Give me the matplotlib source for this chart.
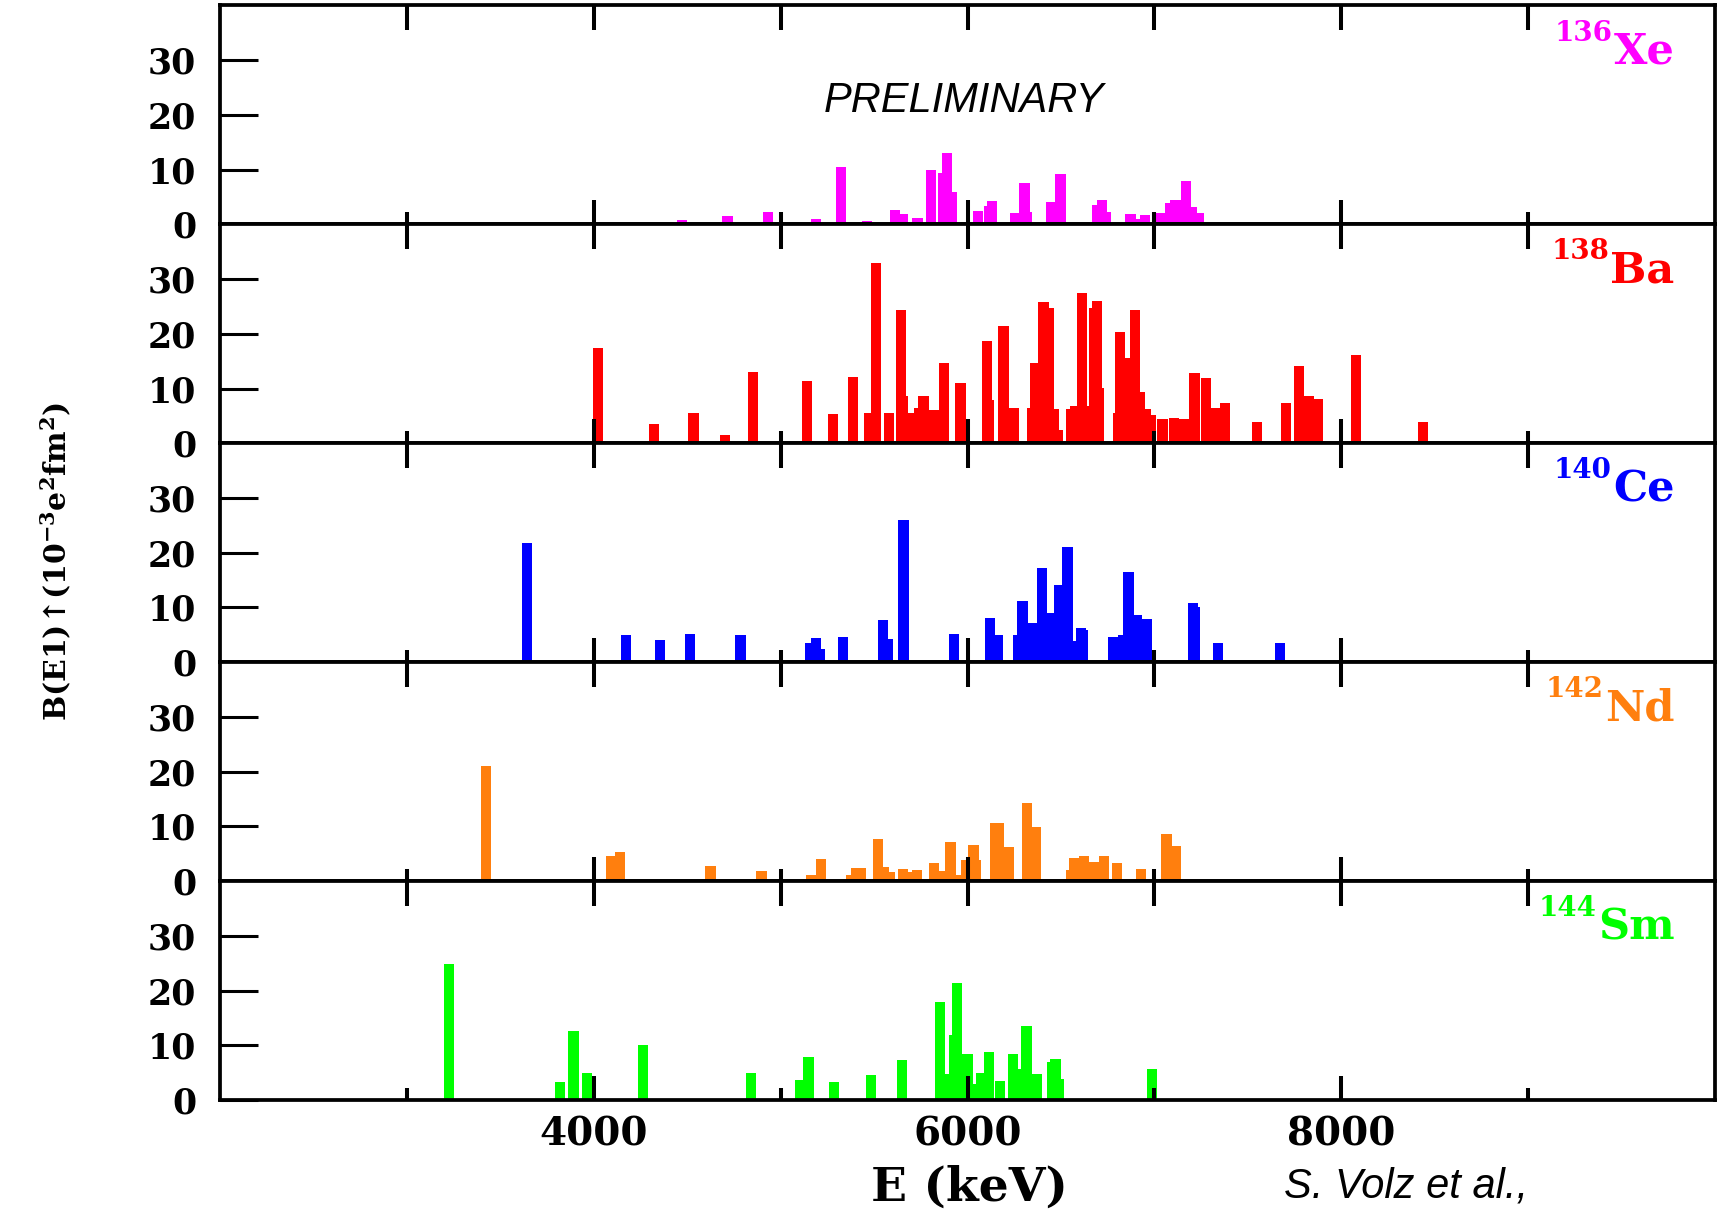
import matplotlib
matplotlib.use("Agg")
import matplotlib.pyplot as plt

# ---- data: level energies (keV) and B(E1)up strengths (10^-3 e^2 fm^2) ----
xe_energy = [4474, 4715, 4932, 5189, 5324, 5462, 5611, 5655, 5732, 5805, 5872,
             5890, 5917, 6057, 6114, 6132, 6256, 6305, 6317, 6450, 6497, 6696,
             6718, 6741, 6872, 6910, 6948, 7030, 7086, 7113, 7169, 7201, 7237]
xe_strength = [0.8, 1.5, 2.2, 0.9, 10.5, 0.55, 2.6, 1.85, 1.2, 9.85, 9.35,
               13.0, 5.9, 2.5, 3.3, 4.25, 2.1, 7.6, 2.3, 4.0, 9.2, 3.6,
               4.5, 2.3, 1.9, 1.05, 1.8, 2.1, 3.9, 4.5, 7.9, 3.2, 2.1]

ba_energy = [4023, 4322, 4534, 4703, 4852, 5143, 5282, 5388, 5476, 5510, 5580,
             5643, 5654, 5708, 5742, 5765, 5821, 5873, 5963, 6103, 6114, 6193,
             6247, 6346, 6362, 6407, 6436, 6463, 6486, 6554, 6576, 6614, 6637,
             6680, 6693, 6705, 6804, 6815, 6871, 6896, 6923, 6957, 6982, 7043,
             7106, 7160, 7214, 7277, 7333, 7376, 7548, 7704, 7775, 7827, 7875,
             8078, 8437]
ba_strength = [17.4, 3.6, 5.6, 1.6, 13.0, 11.35, 5.3, 12.1, 5.5, 32.9, 5.5,
               24.4, 8.6, 5.5, 6.5, 8.6, 6.1, 14.7, 11.1, 18.6, 7.85, 21.5,
               6.5, 6.5, 14.6, 25.8, 24.8, 6.3, 2.5, 6.2, 6.8, 27.4, 6.9,
               24.7, 26.0, 10.1, 5.6, 20.4, 15.6, 24.4, 9.4, 6.2, 5.1, 4.5,
               4.7, 4.5, 12.8, 11.9, 6.4, 7.3, 3.8, 7.35, 14.1, 8.6, 8.1,
               16.2, 3.9]

ce_energy = [3642, 4172, 4354, 4514, 4786, 5157, 5190, 5209, 5333, 5548, 5572,
             5658, 5928, 6119, 6160, 6270, 6294, 6349, 6397, 6452, 6492, 6535,
             6590, 6607, 6619, 6781, 6834, 6861, 6905, 6961, 7205, 7216, 7341,
             7673]
ce_strength = [21.7, 4.9, 4.1, 5.1, 5.05, 3.5, 4.4, 2.5, 4.55, 7.7, 4.3,
               26.0, 5.2, 8.0, 5.0, 4.9, 11.1, 7.2, 17.3, 9.0, 14.15, 21.0,
               3.8, 6.3, 5.85, 4.6, 4.9, 16.4, 8.6, 7.9, 10.8, 10.0, 3.45,
               3.55]

nd_energy = [3422, 4094, 4141, 4625, 4897, 5161, 5217, 5375, 5402, 5431, 5522,
             5551, 5587, 5654, 5695, 5730, 5821, 5877, 5909, 5965, 5991, 6032,
             6047, 6150, 6167, 6220, 6317, 6364, 6554, 6569, 6622, 6677, 6730,
             6801, 6930, 7065, 7114]
nd_strength = [21.0, 4.6, 5.4, 2.75, 1.85, 1.2, 4.1, 1.15, 2.45, 2.45, 7.7,
               2.5, 1.7, 2.2, 1.7, 1.96, 3.3, 1.8, 7.1, 1.2, 3.9, 6.6,
               3.9, 10.7, 10.55, 6.25, 14.35, 9.8, 2.1, 4.2, 4.55, 3.4, 4.65,
               3.25, 2.3, 8.6, 6.4]

sm_energy = [3226, 3818, 3892, 3965, 4263, 4841, 5105, 5149, 5285, 5484, 5648,
             5852, 5888, 5926, 5945, 6000, 6052, 6071, 6114, 6174, 6245, 6300,
             6316, 6371, 6455, 6471, 6488, 6986]
sm_strength = [24.8, 3.3, 12.55, 4.95, 10.0, 4.95, 3.7, 7.95, 3.3, 4.5, 7.4,
               17.9, 4.7, 11.9, 21.4, 8.4, 2.9, 4.95, 8.8, 3.5, 8.45, 5.75,
               13.5, 4.7, 6.9, 7.5, 3.9, 5.7]

nuclei = ["Xe", "Ba", "Ce", "Nd", "Sm"]
mass_numbers = ["136", "138", "140", "142", "144"]
colors = ["#ff00ff", "#ff0000", "#0000ff", "#ff7f0e", "#00ff00"]
energies = [xe_energy, ba_energy, ce_energy, nd_energy, sm_energy]
strengths = [xe_strength, ba_strength, ce_strength, nd_strength, sm_strength]

y_ticks = [0, 10, 20, 30]
x_label_ticks = [4000, 6000, 8000]
x_minor_ticks = [3000, 5000, 7000, 9000]
x_top_ticks = [3000, 4000, 5000, 6000, 7000, 8000, 9000]
bin_width = 55

plt.rcParams["mathtext.fontset"] = "custom"
plt.rcParams["mathtext.rm"] = "DejaVu Serif:bold"
plt.rcParams["mathtext.it"] = "DejaVu Serif:italic:bold"
plt.rcParams["mathtext.bf"] = "DejaVu Serif:bold"

serif_bold = dict(family="DejaVu Serif", weight="bold")

fig, axes = plt.subplots(5, 1, sharex=True, figsize=(17.24, 12.12), dpi=100,
                         gridspec_kw=dict(hspace=0))
fig.subplots_adjust(left=0.1276, right=0.9948, top=0.9955, bottom=0.0924)

for ax, e, s, col, sym, mass in zip(axes, energies, strengths, colors,
                                    nuclei, mass_numbers):
    ax.bar(e, s, width=bin_width, color=col, linewidth=0, align="center")
    ax.set_xlim(2000, 10000)
    ax.set_ylim(0, 40)
    for sp in ax.spines.values():
        sp.set_linewidth(2.7)
    ax.set_yticks(y_ticks)
    ax.tick_params(axis="y", direction="in", length=27, width=2.2, pad=17,
                   left=True, right=False)
    ax.set_xticks(x_label_ticks)
    ax.set_xticks(x_minor_ticks, minor=True)
    ax.tick_params(axis="x", which="major", direction="in", length=17,
                   width=2.9, top=False, bottom=True, pad=11)
    ax.tick_params(axis="x", which="minor", direction="in", length=8.6,
                   width=2.9, top=False, bottom=True)
    for lab in ax.get_yticklabels():
        lab.set_fontsize(25)
        lab.set_fontfamily("DejaVu Serif")
        lab.set_fontweight("bold")

    top = ax.secondary_xaxis("top")
    top.set_xticks(x_top_ticks)
    top.tick_params(direction="in", length=18, width=2.9, labeltop=False)
    for sp in top.spines.values():
        sp.set_visible(False)

    elem = ax.text(0.973, 0.735, sym, transform=ax.transAxes, color=col,
                   fontsize=31, ha="right", va="baseline", **serif_bold)
    ax.annotate(mass, xy=(0, 0), xycoords=elem, xytext=(-1, 23),
                textcoords="offset points", color=col, fontsize=20,
                ha="right", va="baseline", **serif_bold)

for lab in axes[-1].get_xticklabels():
    lab.set_fontsize(28)
    lab.set_fontfamily("DejaVu Serif")
    lab.set_fontweight("bold")

axes[0].text(5980, 20.5, "PRELIMINARY", fontsize=30, style="italic",
             family="Liberation Sans", ha="center", va="baseline")

fig.text(0.032, 0.537,
         "B(E1)\u2191(10$^{-3}$e$^{2}$fm$^{2}$)",
         rotation=90, ha="center", va="center", fontsize=21.5, **serif_bold)
fig.text(0.5626, 0.0095, "E (keV)", fontsize=34, ha="center",
         va="baseline", **serif_bold)
fig.text(0.7448, 0.0116, "S. Volz et al.,", fontsize=30, style="italic",
         family="Liberation Sans", ha="left", va="baseline")

fig.savefig("out.png", dpi=100)
